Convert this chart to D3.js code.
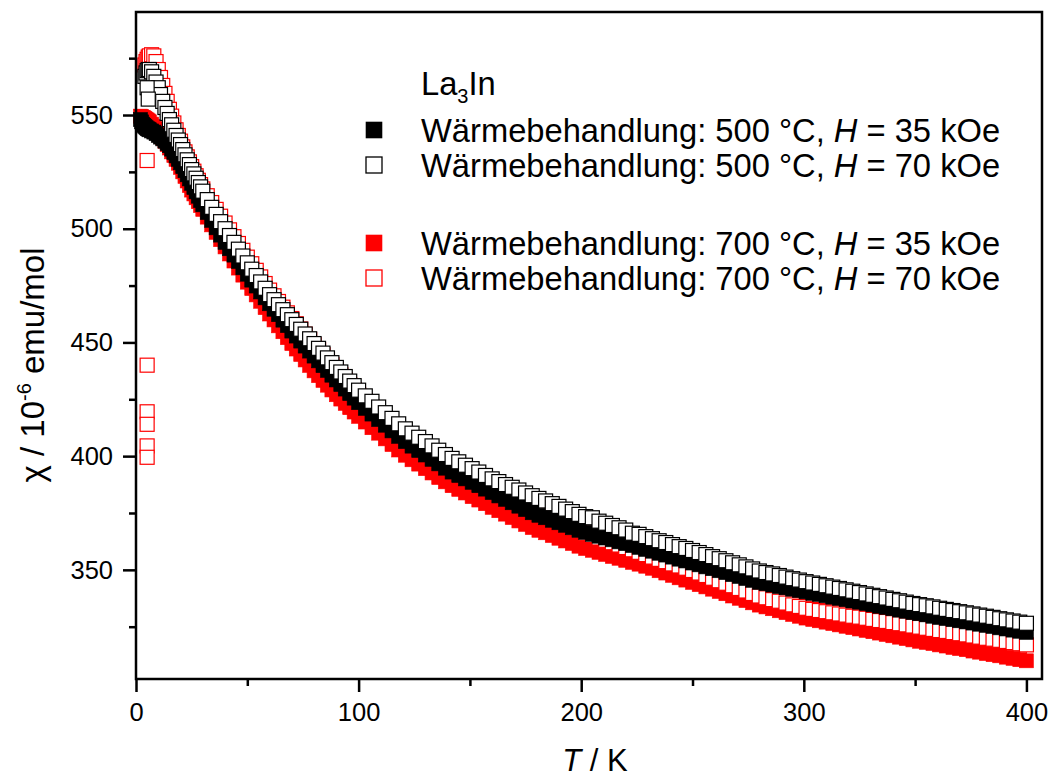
<!DOCTYPE html>
<html>
<head>
<meta charset="utf-8">
<script src="https://cdn.jsdelivr.net/npm/d3@7"></script>
<style>
  body { margin: 0; background: #fff; }
  svg { display: block; font-family: "Liberation Sans", Arial, sans-serif; }
</style>
</head>
<body>
<script>
// temperature grid (K) shared by the four measurements
const temps = [
  2, 2.5, 3, 3.5, 4, 4.5, 5, 5.5, 6, 7, 8, 9, 10, 11, 12, 13, 14, 15, 16, 17, 18, 19, 20, 21, 22, 23, 24, 25, 26, 27, 28, 29, 30,
  32, 34, 36, 38, 40, 42, 44, 46, 48, 50, 52, 54, 56, 58, 60, 62, 64, 66, 68, 70, 72, 74, 76, 78, 80, 82, 84, 86, 88, 90, 92, 94, 96, 98,
  100, 103, 106, 109, 112, 115, 118, 121, 124, 127, 130, 133, 136, 139, 142, 145, 148, 151, 154, 157, 160, 163, 166, 169, 172, 175,
  178, 181, 184, 187, 190, 193, 196, 199, 202, 205, 208, 211, 214, 217, 220, 223, 226, 229, 232, 235, 238, 241, 244, 247, 250,
  253, 256, 259, 262, 265, 268, 271, 274, 277, 280, 283, 286, 289, 292, 295, 298, 301, 304, 307, 310, 313, 316, 319, 322, 325,
  328, 331, 334, 337, 340, 343, 346, 349, 352, 355, 358, 361, 364, 367, 370, 373, 376, 379, 382, 385, 388, 391, 394, 397, 400
]

// chi in 10^-6 emu/mol
const chi500_35 = [
  548, 547, 546, 545.5, 545, 544.5, 544, 543.8, 543.5, 543, 542.5, 541.8, 541, 540.3, 539.5, 538.5, 537.5, 536.5, 535, 533.5, 532, 530.5, 529, 527.3, 525.5, 523.7, 521.9, 520, 518.1, 516.2, 514.3, 512.4, 510.5,
  507.1, 503.7, 500.4, 497.2, 494, 491.2, 488.4, 485.6, 482.8, 480, 477.4, 474.8, 472.2, 469.6, 467, 464.6, 462.2, 459.8, 457.4, 455, 452.8, 450.6, 448.4, 446.2, 444, 441.9, 439.8, 437.7, 435.6, 433.5, 431.5, 429.5, 427.5, 425.5,
  423.5, 421.0, 418.5, 416.1, 413.6, 411.1, 408.7, 406.4, 404.4, 402.5, 400.5, 398.6, 396.6, 394.7, 393, 391.5, 390, 388.5, 387, 385.5, 384, 382.5, 381, 379.5, 378, 376.5,
  375.1, 374, 372.9, 371.8, 370.7, 369.6, 368.5, 367.4, 366.5, 365.6, 364.8, 364.0, 363.2, 362.3, 361.5, 360.7, 359.9, 359.0, 358.2, 357.3, 356.5, 355.6, 354.7, 353.9, 353,
  352.2, 351.3, 350.5, 349.6, 348.8, 347.9, 347.1, 346.2, 345.4, 344.5, 343.9, 343.3, 342.7, 342.1, 341.5, 340.9, 340.3, 339.7, 339.2, 338.6, 338.0, 337.5, 336.9, 336.3, 335.8,
  335.2, 334.6, 334.0, 333.5, 332.9, 332.3, 331.8, 331.2, 330.7, 330.2, 329.6, 329.1, 328.6, 328.1, 327.6, 327.1, 326.6, 326.1, 325.6, 325.1, 324.5, 324.0, 323.5, 323.0, 322.5
]
const chi500_70 = [
  null, null, null, null, 567, 568.5, 569.5, 570, 570, 569, 567, 564.5, 562, 559, 556, 553.3, 550.7, 548, 545.7, 543.3, 541, 539, 537, 534.8, 532.5, 530.3, 528.2, 526, 524.1, 522.2, 520.3, 518.4, 516.5,
  512.8, 509.4, 506.3, 503.1, 500, 497, 494, 491, 488, 485, 482.2, 479.4, 476.6, 473.8, 471, 468.8, 466.6, 464.4, 462.2, 460, 457.9, 455.8, 453.7, 451.6, 449.5, 447.4, 445.3, 443.2, 441.1, 439, 437, 435, 433, 431,
  429, 426.5, 424.1, 421.6, 419.1, 416.6, 414.2, 412, 410.1, 408.3, 406.4, 404.5, 402.6, 400.7, 399, 397.5, 396, 394.5, 393, 391.5, 390, 388.8, 387.5, 386.3, 385.1, 383.8,
  382.6, 381.4, 380.3, 379.1, 377.9, 376.7, 375.6, 374.4, 373.4, 372.9, 371.4, 370.5, 369.5, 368.5, 367.5, 366.1, 365.6, 364.6, 363.7, 362.8, 362.0, 361.1, 360.2, 359.4, 358.5,
  357.6, 356.7, 355.8, 354.9, 354, 353.1, 352.2, 351.3, 350.4, 349.5, 348.8, 348.2, 347.5, 346.8, 346.1, 345.5, 344.8, 344.2, 343.6, 343.0, 342.4, 341.8, 341.2, 340.6, 340.0,
  339.4, 338.8, 338.2, 337.6, 337.0, 336.4, 335.8, 335.2, 334.7, 334.2, 333.7, 333.1, 332.6, 332.1, 331.6, 331.1, 330.6, 330.1, 329.6, 329.1, 328.5, 328.0, 327.5, 327.0, 326.5
]
const chi700_35 = [
  549.5, 549.3, 549, 548.8, 548.5, 548.1, 547.8, 547.4, 547, 546, 545, 544, 543, 541.5, 540, 538.5, 537, 535.5, 533.8, 532.2, 530.5, 528.8, 527, 525, 523, 521, 519, 517, 515.3, 513.6, 511.9, 510.2, 508.5,
  505.1, 501.7, 498.4, 495.2, 492, 488.9, 485.8, 482.7, 479.6, 476.5, 473.7, 470.9, 468.1, 465.3, 462.5, 459.9, 457.3, 454.7, 452.1, 449.5, 447.1, 444.7, 442.3, 439.9, 437.5, 435.4, 433.3, 431.2, 429.1, 427, 425.1, 423.2, 421.3, 419.4,
  417.5, 415.0, 412.5, 410.1, 407.6, 405.1, 402.7, 400.4, 398.4, 396.5, 394.5, 392.6, 390.6, 388.7, 387, 385.4, 383.8, 382.2, 380.7, 379.1, 377.5, 376, 374.5, 373, 371.5, 370,
  368.6, 367.4, 366.3, 365.1, 363.9, 362.7, 361.6, 360.4, 359.4, 358.6, 357.7, 356.8, 355.9, 355.1, 354.2, 353.3, 352.5, 351.6, 350.7, 349.6, 348.6, 347.6, 346.5, 345.5, 344.5,
  343.5, 342.5, 341.5, 340.5, 339.5, 338.5, 337.5, 336.5, 335.5, 334.5, 333.7, 332.9, 332.0, 331.2, 330.4, 329.6, 328.8, 328.2, 327.6, 327.0, 326.4, 325.8, 325.2, 324.6, 324.0,
  323.4, 322.8, 322.2, 321.6, 321.0, 320.4, 319.8, 319.2, 318.6, 318.1, 317.6, 317.0, 316.5, 315.9, 315.4, 314.9, 314.3, 313.8, 313.2, 312.7, 312.2, 311.6, 311.1, 310.5, 310
]
const chi700_70 = [
  null, null, null, null, 572, 573.5, 574.5, 575.5, 576, 576.5, 576, 573.5, 570, 566.5, 563, 559.5, 556, 552.5, 549.5, 546.5, 543.5, 541, 538.5, 536, 533.8, 531.6, 529.4, 527.3, 525.3, 523.3, 521.3, 519.4, 517.5,
  514.5, 511.5, 508.5, 505.5, 502.5, 499.5, 496.5, 493.5, 490.5, 487.5, 484.6, 481.7, 478.8, 475.9, 473, 470.5, 468, 465.5, 463, 460.5, 458.2, 455.9, 453.6, 451.3, 449, 446.8, 444.6, 442.4, 440.2, 438, 435.8, 433.6, 431.4, 429.2,
  427, 424.3, 421.6, 418.9, 416.2, 413.5, 410.8, 408.3, 406.2, 404.1, 402, 399.9, 397.8, 395.7, 393.9, 392.3, 390.6, 389, 387.3, 385.7, 384, 382.6, 381.2, 379.8, 378.4, 376.9,
  375.6, 374.4, 373.2, 372, 370.8, 369.6, 368.4, 367.2, 366.1, 365.1, 364, 363, 361.9, 360.9, 359.8, 358.8, 357.7, 356.7, 355.6, 354.6, 353.6, 352.6, 351.7, 350.7, 349.7,
  348.6, 347.5, 346.3, 345.2, 344.1, 343, 341.8, 340.7, 339.6, 338.5, 337.7, 336.9, 336.2, 335.4, 334.6, 333.9, 333.1, 332.6, 332.1, 331.6, 331.1, 330.6, 330.1, 329.6, 329.2,
  328.7, 328.2, 327.7, 327.3, 326.8, 326.3, 325.8, 325.3, 324.8, 324.3, 323.8, 323.3, 322.9, 322.4, 321.9, 321.4, 320.9, 320.4, 319.9, 319.5, 319, 318.5, 318, 317.5, 317
]
// stray low-temperature points
const lowT500_70 = [5, 5.5]
const lowChi500_70 = [562, 557]
const lowT700_70 = [5, 5, 5, 5, 5, 5]
const lowChi700_70 = [530, 440, 419.5, 414, 404.5, 399.5]

const annealTemps = ['500', '500', '700', '700']
const fields = ['35', '70', '35', '70']

const xTicks = [0, 100, 200, 300, 400]
const xMinor = [50, 150, 250, 350]
const yTicks = [350, 400, 450, 500, 550]
const yMinor = [325, 375, 425, 475, 525, 575]

const width = 1055;
const height = 778;
const marginLeft = 136;
const marginRight = 13;
const marginTop = 12;
const marginBottom = 99;

const svg = d3.select('body')
  .append('svg')
  .attr('width', width)
  .attr('height', height)
  .attr('viewBox', [0, 0, width, height]);

const xScale = d3.scaleLinear([0, 407], [marginLeft, width - marginRight]);
const yScale = d3.scaleLinear([302, 595.3], [height - marginBottom, marginTop]);

// drawing order: red filled, red open, black filled, black open
const series = [
  { vals: chi700_35, exT: [], exV: [], color: '#ff0000', filled: true },
  { vals: chi700_70, exT: lowT700_70, exV: lowChi700_70, color: '#ff0000', filled: false },
  { vals: chi500_35, exT: [], exV: [], color: '#000000', filled: true },
  { vals: chi500_70, exT: lowT500_70, exV: lowChi500_70, color: '#000000', filled: false }
]

const s = 14;
series.forEach(d => {
  const pts = temps.map((t, i) => ({ t, v: d.vals[i] })).filter(p => p.v != null)
    .concat(d.exT.map((t, i) => ({ t, v: d.exV[i] })));
  svg.append('g')
    .attr('fill', d.filled ? d.color : '#fff')
    .attr('stroke', d.color)
    .attr('stroke-width', d.filled ? 0.6 : 1.2)
    .selectAll('rect')
    .data(pts)
    .join('rect')
    .attr('x', p => xScale(p.t) - s / 2)
    .attr('y', p => yScale(p.v) - s / 2)
    .attr('width', s)
    .attr('height', s);
});

// axes
function styleAxis(g) {
  g.select('.domain').remove();
  g.selectAll('.tick line').attr('stroke', '#000').attr('stroke-width', 2.5);
  g.selectAll('.tick text').attr('fill', '#000').attr('font-size', 25.5)
    .attr('font-family', '"Liberation Sans", Arial, sans-serif');
}

svg.append('g')
  .attr('transform', `translate(0,${height - marginBottom})`)
  .call(d3.axisBottom(xScale).tickValues(xMinor).tickSize(7).tickFormat(''))
  .call(styleAxis);
svg.append('g')
  .attr('transform', `translate(0,${height - marginBottom})`)
  .call(d3.axisBottom(xScale).tickValues(xTicks).tickSize(13).tickPadding(11).tickFormat(d3.format('d')))
  .call(styleAxis);
svg.append('g')
  .attr('transform', `translate(${marginLeft},0)`)
  .call(d3.axisLeft(yScale).tickValues(yMinor).tickSize(7).tickFormat(''))
  .call(styleAxis);
svg.append('g')
  .attr('transform', `translate(${marginLeft},0)`)
  .call(d3.axisLeft(yScale).tickValues(yTicks).tickSize(13).tickPadding(10).tickFormat(d3.format('d')))
  .call(styleAxis);

svg.append('rect')
  .attr('x', marginLeft)
  .attr('y', marginTop)
  .attr('width', width - marginRight - marginLeft)
  .attr('height', height - marginBottom - marginTop)
  .attr('fill', 'none')
  .attr('stroke', '#000')
  .attr('stroke-width', 2.5);

// axis titles
const xt = svg.append('text')
  .attr('x', 595)
  .attr('y', 771)
  .attr('text-anchor', 'middle')
  .attr('font-size', 31);
xt.append('tspan').attr('font-style', 'italic').text('T');
xt.append('tspan').text(' / K');

const yt = svg.append('text')
  .attr('transform', 'translate(44,365) rotate(-90)')
  .attr('text-anchor', 'middle')
  .attr('font-size', 33);
yt.append('tspan').text('χ / 10');
yt.append('tspan').attr('font-size', 20).attr('dy', -13).text('-6');
yt.append('tspan').attr('dy', 13).text(' emu/mol');

// legend
const lg = svg.append('g').attr('font-size', 32.7);
const lt = lg.append('text').attr('x', 421).attr('y', 95);
lt.append('tspan').text('La');
lt.append('tspan').attr('font-size', 20).attr('dy', 8).text('3');
lt.append('tspan').attr('dy', -8).text('In');

const rowY = [142, 177, 255, 290];
const legendOrder = [2, 3, 0, 1];
rowY.forEach((y, i) => {
  const d = series[legendOrder[i]];
  lg.append('rect')
    .attr('x', 374 - 8)
    .attr('y', y - 12 - 8)
    .attr('width', 16)
    .attr('height', 16)
    .attr('fill', d.filled ? d.color : '#fff')
    .attr('stroke', d.color)
    .attr('stroke-width', d.filled ? 0.6 : 1.3);
  const t = lg.append('text').attr('x', 421).attr('y', y);
  t.append('tspan').text(`Wärmebehandlung: ${annealTemps[i]} °C, `);
  t.append('tspan').attr('font-style', 'italic').text('H');
  t.append('tspan').text(` = ${fields[i]} kOe`);
});
</script>
</body>
</html>
